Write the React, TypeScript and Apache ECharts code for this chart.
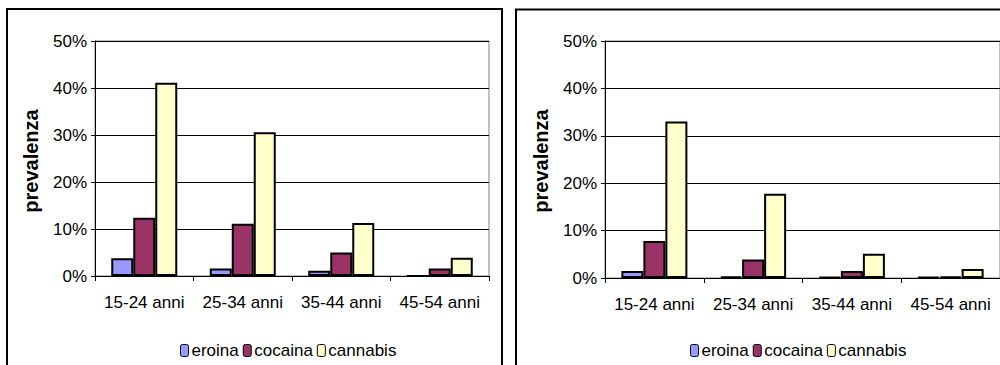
import React, { useEffect, useRef } from "react";
import * as echarts from "echarts";

const categories = ["15-24 anni", "25-34 anni", "35-44 anni", "45-54 anni"];
const seriesNames = ["eroina", "cocaina", "cannabis"];
const seriesColors = ["#9999FF", "#993366", "#FFFFCC"];

// left panel values (fraction)
const leftEroina = [0.038, 0.016, 0.011, 0];
const leftCocaina = [0.124, 0.111, 0.05, 0.016];
const leftCannabis = [0.411, 0.306, 0.113, 0.039];

// right panel values (fraction)
const rightEroina = [0.015, 0.003, 0.002, 0.002];
const rightCocaina = [0.078, 0.039, 0.015, 0.003];
const rightCannabis = [0.33, 0.178, 0.051, 0.019];

const yTicks = [0, 0.1, 0.2, 0.3, 0.4, 0.5];

const FONT = "'Liberation Sans', Arial, sans-serif";

export default function App() {
  const ref = useRef<HTMLDivElement>(null);
  useEffect(() => {
    if (!ref.current) return;
    const chart = echarts.init(ref.current, undefined, { renderer: "svg" });

    const grids = [
      { left: 95, top: 41, width: 394, height: 235 },
      { left: 605, top: 41, width: 395, height: 237 },
    ];

    const xAxis = grids.map((_, i) => ({
      type: "category",
      gridIndex: i,
      data: categories,
      axisLine: { show: true, lineStyle: { color: "#000", width: 1 } },
      axisTick: { show: true, length: 5, lineStyle: { color: "#000" } },
      axisLabel: {
        color: "#000",
        fontFamily: FONT,
        fontSize: 17,
        margin: 18,
        interval: 0,
      },
    }));

    const yAxis = grids.map((_, i) => ({
      type: "value",
      gridIndex: i,
      min: yTicks[0],
      max: yTicks[yTicks.length - 1],
      interval: 0.1,
      axisLine: { show: true, lineStyle: { color: "#000", width: 1 } },
      axisTick: { show: true, length: 4, lineStyle: { color: "#000" } },
      splitLine: { show: true, lineStyle: { color: "#000", width: 1 } },
      axisLabel: {
        color: "#000",
        fontFamily: FONT,
        fontSize: 17,
        margin: 8,
        formatter: (v: number) => Math.round(v * 100) + "%",
      },
    }));

    const panelData = [
      [leftEroina, leftCocaina, leftCannabis],
      [rightEroina, rightCocaina, rightCannabis],
    ];

    const series: any[] = [];
    panelData.forEach((sets, gi) => {
      sets.forEach((vals, si) => {
        series.push({
          type: "bar",
          name: seriesNames[si],
          xAxisIndex: gi,
          yAxisIndex: gi,
          data: vals,
          barWidth: 22,
          barGap: "0%",
          itemStyle: {
            color: seriesColors[si],
            borderColor: "#000",
            borderWidth: 2,
          },
        });
      });
    });

    const legendCommon = {
      data: seriesNames,
      orient: "horizontal",
      itemWidth: 8,
      itemHeight: 12,
      itemGap: 4,
      selectedMode: false,
      itemStyle: { borderWidth: 1, borderColor: "#000" },
      textStyle: {
        color: "#000",
        fontFamily: FONT,
        fontSize: 17,
        lineHeight: 17,
        padding: [0, 0, 0, -2],
      },
    };

    const yTitle = (x: number) => ({
      type: "text",
      x,
      y: 161,
      rotation: Math.PI / 2,
      style: {
        text: "prevalenza",
        fontFamily: FONT,
        fontSize: 20,
        fontWeight: "bold",
        fill: "#000",
        align: "center",
        verticalAlign: "middle",
      },
    });

    chart.setOption({
      animation: false,
      backgroundColor: "#fff",
      grid: grids.map((g) => ({
        ...g,
        show: true,
        borderColor: "#808080",
        borderWidth: 1,
        backgroundColor: "transparent",
      })),
      xAxis,
      yAxis,
      series,
      legend: [
        { ...legendCommon, left: 180, top: 342, padding: 0 },
        { ...legendCommon, left: 690, top: 342, padding: 0 },
      ],
      graphic: [
        {
          type: "rect",
          shape: { x: 7, y: 9, width: 495, height: 400 },
          style: { fill: "none", stroke: "#000", lineWidth: 2 },
          silent: true,
        },
        {
          type: "rect",
          shape: { x: 516, y: 9.5, width: 500, height: 400 },
          style: { fill: "none", stroke: "#000", lineWidth: 2 },
          silent: true,
        },
        yTitle(31),
        yTitle(541),
      ],
    });

    return () => chart.dispose();
  }, []);

  return (
    <div
      ref={ref}
      style={{ position: "absolute", left: 0, top: 0, width: 1000, height: 365 }}
    />
  );
}
